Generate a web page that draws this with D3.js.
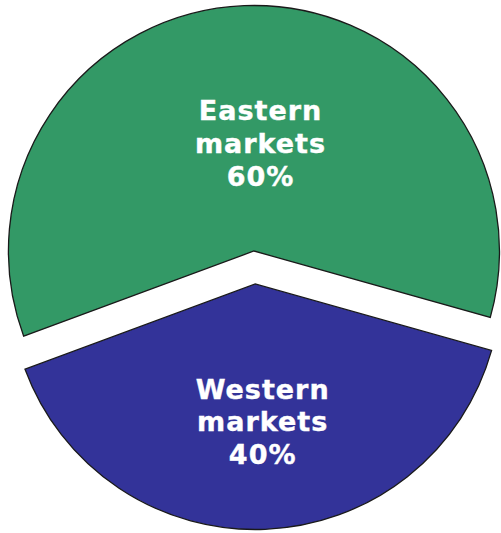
<!DOCTYPE html>
<html>
<head>
<meta charset="utf-8">
<script src="https://cdn.jsdelivr.net/npm/d3@7"></script>
<style>
  html, body { margin: 0; padding: 0; background: #ffffff; }
  svg { display: block; }
</style>
</head>
<body>
<script>
// Market share split
const categories = ["Eastern markets", "Western markets"];
const shares = [60, 40];
const colors = ["#339966", "#333399"];

const width = 501, height = 533;
const cx = 254.6, cy = 267.5;
const radius = 245.5;
const explode = 16.5;
const startDeg = -110.3;

// label placement along each slice's bisector (fraction of radius) plus a small horizontal nudge
const labelLayout = [
  { r: 0.40, dx: 10.5, lineGap: 33 },
  { r: 0.60, dx: 1.5, lineGap: 32.5 }
];

const svg = d3.select("body").append("svg")
  .attr("width", width)
  .attr("height", height);

const pie = d3.pie()
  .sort(null)
  .value(d => d)
  .startAngle(startDeg * Math.PI / 180)
  .endAngle((startDeg + 360) * Math.PI / 180);

const arcs = pie(shares);
const arc = d3.arc().innerRadius(0).outerRadius(radius);

const total = d3.sum(shares);

const g = svg.selectAll("g.slice")
  .data(arcs)
  .join("g")
  .attr("class", "slice")
  .attr("transform", d => {
    const mid = (d.startAngle + d.endAngle) / 2;
    const ox = Math.sin(mid) * explode;
    const oy = -Math.cos(mid) * explode;
    return `translate(${cx + ox},${cy + oy})`;
  });

g.append("path")
  .attr("d", arc)
  .attr("fill", (d, i) => colors[i])
  .attr("stroke", "#1a1a1a")
  .attr("stroke-width", 1.3)
  .attr("stroke-linejoin", "miter");

g.each(function (d, i) {
  const mid = (d.startAngle + d.endAngle) / 2;
  const lay = labelLayout[i];
  const lx = Math.sin(mid) * radius * lay.r + lay.dx;
  const ly = -Math.cos(mid) * radius * lay.r;
  const words = categories[i].split(" ");
  const pct = Math.round(d.value / total * 100) + "%";
  const lines = [...words, pct];
  const t = d3.select(this).append("text")
    .attr("text-anchor", "middle")
    .attr("font-family", "'DejaVu Sans', Verdana, sans-serif")
    .attr("font-weight", "bold")
    .attr("font-size", 27)
    .attr("fill", "#ffffff")
    .attr("stroke", "#ffffff")
    .attr("stroke-width", 0.4)
    .attr("letter-spacing", 1);
  lines.forEach((ln, k) => {
    t.append("tspan")
      .attr("x", lx)
      .attr("y", ly + (k - 1) * lay.lineGap)
      .text(ln);
  });
});
</script>
</body>
</html>
